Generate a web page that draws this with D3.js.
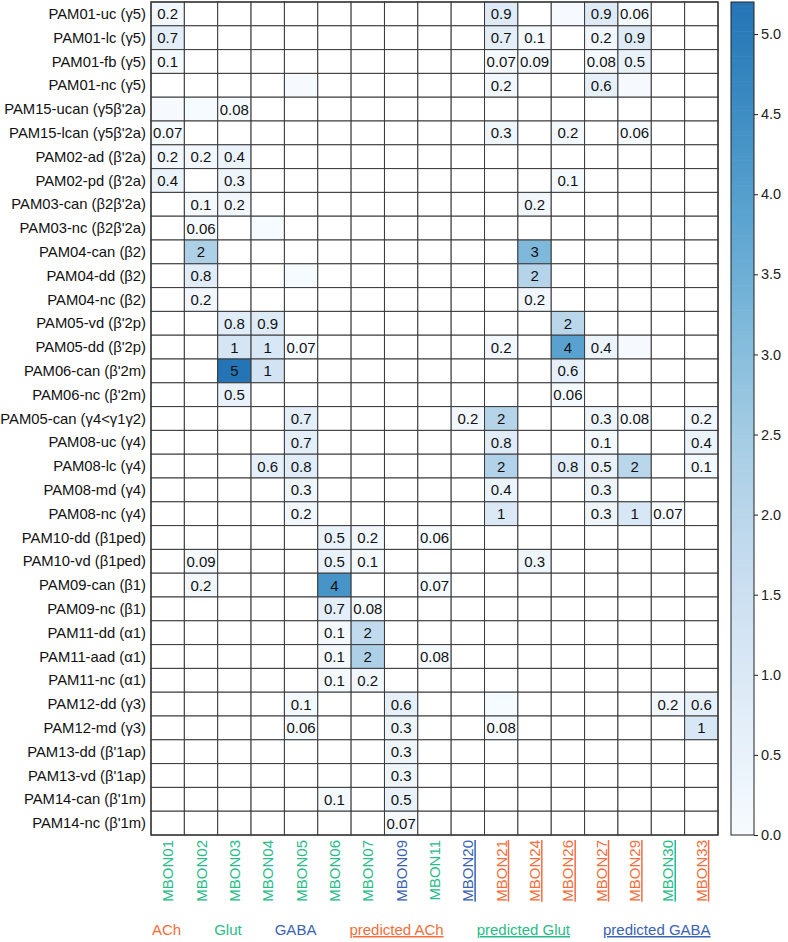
<!DOCTYPE html>
<html><head><meta charset="utf-8">
<script src="https://cdn.jsdelivr.net/npm/d3@7"></script>
<style>
body{margin:0;background:#fff;}
text{font-family:"Liberation Sans",Arial,sans-serif;}
</style></head>
<body><svg id="chart" width="788" height="942"></svg>
<script>
const rowLabels = ["PAM01-uc (γ5)","PAM01-lc (γ5)","PAM01-fb (γ5)","PAM01-nc (γ5)","PAM15-ucan (γ5β'2a)","PAM15-lcan (γ5β'2a)","PAM02-ad (β'2a)","PAM02-pd (β'2a)","PAM03-can (β2β'2a)","PAM03-nc (β2β'2a)","PAM04-can (β2)","PAM04-dd (β2)","PAM04-nc (β2)","PAM05-vd (β'2p)","PAM05-dd (β'2p)","PAM06-can (β'2m)","PAM06-nc (β'2m)","PAM05-can (γ4<γ1γ2)","PAM08-uc (γ4)","PAM08-lc (γ4)","PAM08-md (γ4)","PAM08-nc (γ4)","PAM10-dd (β1ped)","PAM10-vd (β1ped)","PAM09-can (β1)","PAM09-nc (β1)","PAM11-dd (α1)","PAM11-aad (α1)","PAM11-nc (α1)","PAM12-dd (γ3)","PAM12-md (γ3)","PAM13-dd (β'1ap)","PAM13-vd (β'1ap)","PAM14-can (β'1m)","PAM14-nc (β'1m)"];
const colLabels = ["MBON01","MBON02","MBON03","MBON04","MBON05","MBON06","MBON07","MBON09","MBON11","MBON20","MBON21","MBON24","MBON26","MBON27","MBON29","MBON30","MBON33"];
const colTransmitter = ["Glut","Glut","Glut","Glut","Glut","Glut","Glut","GABA","Glut","predicted GABA","predicted ACh","predicted ACh","predicted ACh","predicted ACh","predicted ACh","predicted Glut","predicted ACh"];
const legendItems = ["ACh","Glut","GABA","predicted ACh","predicted Glut","predicted GABA"];
const colorbarTicks = [0,0.5,1,1.5,2,2.5,3,3.5,4,4.5,5];
const values = [
 [0.2,0,0,0,0,0,0,0,0,0,0.9,0,0.03,0.9,0.06,0,0],
 [0.7,0,0,0,0,0,0,0,0,0,0.7,0.1,0,0.2,0.9,0,0],
 [0.1,0,0,0,0,0,0,0,0,0,0.07,0.09,0,0.08,0.5,0,0],
 [0,0,0,0,0.03,0,0,0,0,0,0.2,0,0,0.6,0.03,0,0],
 [0.03,0.02,0.08,0,0,0,0,0,0,0,0,0,0,0,0,0,0],
 [0.07,0,0,0,0,0,0,0,0,0,0.3,0,0.2,0,0.06,0,0],
 [0.2,0.2,0.4,0,0,0,0,0,0,0,0,0,0,0,0,0,0],
 [0.4,0,0.3,0,0,0,0,0,0,0,0,0,0.1,0,0,0,0],
 [0,0.1,0.2,0,0,0,0,0,0,0,0,0.2,0,0,0,0,0],
 [0,0.06,0,0.02,0,0,0,0,0,0,0,0,0,0,0,0,0],
 [0,2.3,0,0,0,0,0,0,0,0,0,3.2,0,0,0,0,0],
 [0,0.8,0,0,0.02,0,0,0,0,0,0,2.1,0,0,0,0,0],
 [0,0.2,0,0,0,0,0,0,0,0,0,0.2,0,0,0,0,0],
 [0,0,0.8,0.9,0,0,0,0,0,0,0,0,2.0,0,0,0,0],
 [0,0,1.2,1.1,0.07,0,0,0,0,0,0.2,0,3.9,0.4,0.03,0,0],
 [0,0,5.2,1.3,0,0,0,0,0,0,0,0,0.6,0,0,0,0],
 [0,0,0.5,0,0,0,0,0,0,0,0,0,0.06,0,0,0,0],
 [0,0,0,0,0.7,0,0,0,0,0.2,2.1,0,0,0.3,0.08,0,0.2],
 [0,0,0,0,0.7,0,0,0,0,0,0.8,0,0,0.1,0,0,0.4],
 [0,0,0,0.6,0.8,0,0,0,0,0,2.2,0,0.8,0.5,2.0,0,0.1],
 [0,0,0,0,0.3,0,0,0,0,0,0.4,0,0,0.3,0,0,0],
 [0,0,0,0,0.2,0,0,0,0,0,1.0,0,0,0.3,1.1,0.07,0],
 [0,0,0,0,0,0.5,0.2,0,0.06,0,0,0,0,0,0,0,0],
 [0,0.09,0,0,0,0.5,0.1,0,0,0,0,0.3,0,0,0,0,0],
 [0,0.2,0,0,0,4.3,0,0,0.07,0,0,0,0,0,0,0,0],
 [0,0,0,0,0,0.7,0.08,0,0,0,0,0,0,0,0,0,0],
 [0,0,0,0,0,0.1,1.8,0,0,0,0,0,0,0,0,0,0],
 [0,0,0,0,0,0.1,2.3,0,0.08,0,0,0,0,0,0,0,0],
 [0,0,0,0,0,0.1,0.2,0,0,0,0,0,0,0,0,0,0],
 [0,0,0,0,0.1,0,0,0.6,0,0,0.02,0,0,0,0,0.2,0.6],
 [0,0,0,0,0.06,0,0,0.3,0,0,0.08,0,0,0,0,0,1.1],
 [0,0,0,0,0,0,0,0.3,0,0,0,0,0,0,0,0,0],
 [0,0,0,0,0,0,0,0.3,0,0,0,0,0,0,0,0,0],
 [0,0,0,0,0,0.1,0,0.5,0,0,0,0,0,0,0,0,0],
 [0,0,0,0,0,0,0,0.07,0,0,0,0,0,0,0,0,0]
];
const vmax = 5.2;

const typeColor = {"ACh":"#f46d3b","Glut":"#27bc87","GABA":"#3a62b4"};
const baseType = t => t.replace("predicted ","");

const svg = d3.select("#chart");
const L = 151, R = 718, T = 2, B = 835;
const x = d3.scaleBand().domain(colLabels).range([L,R]);
const y = d3.scaleBand().domain(rowLabels).range([T,B]);
const color = d3.scaleSequential(t => d3.interpolateBlues(t*0.74)).domain([0,vmax]);
const fmt = d3.format(".1~g");

const cells = [];
values.forEach((row,i)=>row.forEach((v,j)=>cells.push({r:rowLabels[i],c:colLabels[j],v})));

const g = svg.append("g");
g.selectAll("rect.cell").data(cells).join("rect").attr("class","cell")
 .attr("x",d=>x(d.c)).attr("y",d=>y(d.r)).attr("width",x.bandwidth()).attr("height",y.bandwidth())
 .attr("fill",d=>d.v>0?color(d.v):"#fff")
 .attr("stroke","#3a3a3a").attr("stroke-width",1);

g.selectAll("text.val").data(cells.filter(d=>d.v>=0.05)).join("text").attr("class","val")
 .attr("x",d=>x(d.c)+x.bandwidth()/2).attr("y",d=>y(d.r)+y.bandwidth()/2)
 .attr("text-anchor","middle").attr("dominant-baseline","central")
 .attr("font-size",15).attr("fill","#111").text(d=>fmt(d.v));

g.append("rect").attr("x",L).attr("y",T).attr("width",R-L).attr("height",B-T)
 .attr("fill","none").attr("stroke","#333").attr("stroke-width",1.3);

// row labels
svg.append("g").selectAll("text").data(rowLabels).join("text")
 .attr("x",L-5).attr("y",d=>y(d)+y.bandwidth()/2).attr("text-anchor","end")
 .attr("dominant-baseline","central").attr("font-size",14.8).attr("fill","#111").text(d=>d);

// column labels
svg.append("g").selectAll("text").data(colLabels).join("text")
 .attr("transform",(d)=>`translate(${x(d)+x.bandwidth()/2+5.5},${B+5}) rotate(-90)`)
 .attr("text-anchor","end").attr("font-size",15)
 .attr("fill",(d,i)=>typeColor[baseType(colTransmitter[i])])
 .attr("text-decoration",(d,i)=>colTransmitter[i].startsWith("predicted")?"underline":null)
 .text(d=>d);

// colorbar
const cbX = 731, cbW = 23;
const cy = d3.scaleLinear().domain([0,vmax]).range([B,T]);
const steps = d3.range(0,vmax,vmax/200);
const cb = svg.append("g");
cb.selectAll("rect").data(steps).join("rect")
 .attr("x",cbX).attr("width",cbW)
 .attr("y",d=>cy(Math.min(d+vmax/200,vmax))).attr("height",d=>cy(d)-cy(Math.min(d+vmax/200,vmax))+0.6)
 .attr("fill",d=>color(d+vmax/400));
cb.append("rect").attr("x",cbX).attr("y",T).attr("width",cbW).attr("height",B-T)
 .attr("fill","none").attr("stroke","#222").attr("stroke-width",1);
const axis = d3.axisRight(cy).tickValues(colorbarTicks).tickFormat(d3.format(".1f")).tickSize(4).tickPadding(3);
const ax = svg.append("g").attr("transform",`translate(${cbX+cbW},0)`).call(axis);
ax.select(".domain").remove();
ax.selectAll("text").attr("font-size",14.5).attr("fill","#222").attr("font-family","Liberation Sans, Arial, sans-serif");
ax.selectAll("line").attr("stroke","#222");

// legend
const lg = svg.append("g");
let lx = 152;
legendItems.forEach(item=>{
  const t = lg.append("text").attr("x",lx).attr("y",935).attr("font-size",15)
   .attr("fill",typeColor[baseType(item)])
   .attr("text-decoration",item.startsWith("predicted")?"underline":null).text(item);
  lx += t.node().getComputedTextLength() + 33;
});
</script></body></html>
